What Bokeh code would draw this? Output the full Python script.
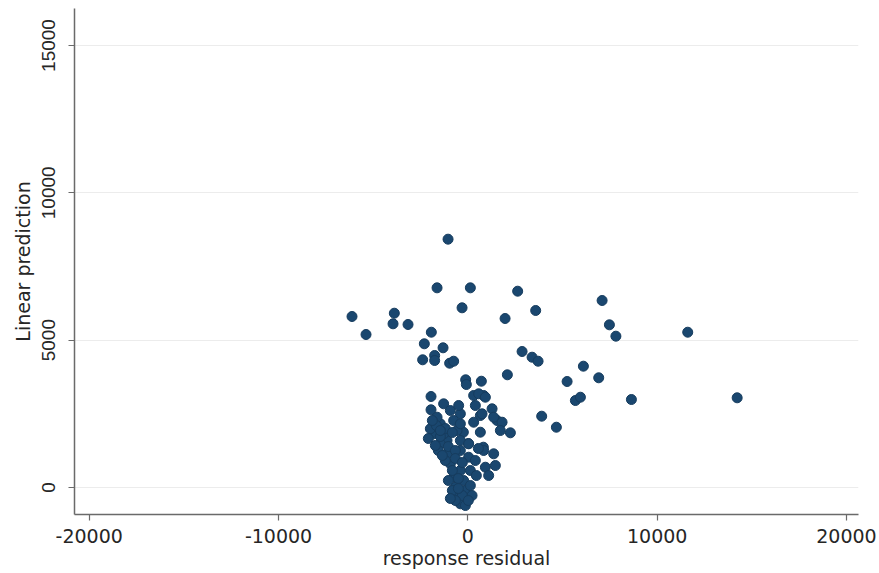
from bokeh.plotting import figure
from bokeh.models import Range1d, FixedTicker, ColumnDataSource, PrintfTickFormatter
from bokeh.embed import file_html
from bokeh.resources import INLINE

# response residual (x) and linear prediction (y)
resid = [
    -1046, -1627, 132, -306, -6119, -5379, -3884, -3952, -3160, -1929,
    -2299, -1310, -2388, -1754, -1754, -962, -750, -116, -79, 713,
    2631, 3583, 1966, 7091, 7477, 7820, 11614, 2864, 3392, 3709,
    6103, 6912, 5242, 2087, 5680, 5945, 8639, 14225, 3900, 4676,
    306, 835, 1279, 660, 1543, 1807, 2246, 1717, 660, -238,
    26, 819, -1945, -1945, -1279, 571, 925, 396, 750, 1363,
    306, -396, -571, -1453, -1807, -1982, -1099, -396, 42, 42,
    835, 1363, 1453, 925, 1099, -396, -1099, -925, -396, -750,
    -222, -660, -132, -571, 222, -396, -132, -1453, -1279, -1627,
    -750, -396, -925, -486, -1664, -1189, -819, -1453, -1030, -660,
    -1559, -1189, -660, -291, -819, -502, -1030, 132, 396, 555,
    -291, -819, -502, 26, -660, 132, 449, -1453, -1876, -2087,
    -1717, -1347, -925,
]
pred = [
    8427, 6776, 6776, 6098, 5803, 5192, 5915, 5555, 5532, 5270,
    4877, 4741, 4334, 4480, 4310, 4218, 4286, 3655, 3495, 3607,
    6662, 6007, 5735, 6346, 5521, 5135, 5270, 4615, 4422, 4286,
    4117, 3723, 3597, 3825, 2952, 3064, 2986, 3044, 2420, 2046,
    3122, 3122, 2671, 2443, 2274, 2216, 1856, 1934, 1877, 1877,
    1493, 1368, 3088, 2637, 2840, 3180, 3064, 2783, 2501, 2386,
    2216, 2501, 1934, 2162, 1822, 1992, 1595, 1595, 1483, 1028,
    1256, 1144, 747, 689, 407, 1256, 1144, 804, 577, 350,
    238, 10, -102, -329, -271, -553, -611, 1483, 1822, 2386,
    2274, 2162, 2613, 2783, 2104, 2002, 1866, 1731, 1391, 1256,
    1256, 916, 984, 848, 577, 305, 238, 577, 916, 1324,
    -271, -102, -34, -441, -441, 68, 407, 1934, 2274, 1663,
    1425, 1086, -373,
]

x_ticks = [-20000, -10000, 0, 10000, 20000]
y_ticks = [0, 5000, 10000, 15000]

TXT = "#262626"
AX = "#6a6a6a"

p = figure(width=879, height=573, output_backend="svg", toolbar_location=None,
           x_range=Range1d(-20777, 20634), y_range=Range1d(-916, 16255),
           min_border_left=74, min_border_right=21, min_border_top=8,
           min_border_bottom=59, background_fill_color="white",
           border_fill_color="white")
p.outline_line_color = None

src = ColumnDataSource(dict(x=resid, y=pred))
p.scatter("x", "y", source=src, size=10, fill_color="#1a476f",
          line_color="#163c5e", line_width=1)

p.xgrid.visible = False
p.ygrid.ticker = FixedTicker(ticks=y_ticks)
p.ygrid.grid_line_color = "#ececec"
p.ygrid.grid_line_width = 1

p.xaxis.ticker = FixedTicker(ticks=x_ticks)
p.yaxis.ticker = FixedTicker(ticks=y_ticks)
p.xaxis.formatter = PrintfTickFormatter(format="%d")
p.yaxis.formatter = PrintfTickFormatter(format="%d")
p.xaxis.axis_label = "response residual"
p.yaxis.axis_label = "Linear prediction"
p.yaxis.major_label_orientation = "vertical"

for ax in (p.xaxis, p.yaxis):
    ax.axis_line_color = AX
    ax.axis_line_width = 1.5
    ax.major_tick_line_color = AX
    ax.major_tick_line_width = 1.2
    ax.major_tick_out = 6
    ax.major_tick_in = 0
    ax.minor_tick_line_color = None
    ax.major_label_text_font_size = "19px"
    ax.major_label_text_color = TXT
    ax.axis_label_text_font = "DejaVu Sans"
    ax.axis_label_text_font_size = "19px"
    ax.axis_label_text_font_style = "normal"
    ax.axis_label_text_color = TXT

p.xaxis.major_label_text_font = "DejaVu Sans"
p.yaxis.major_label_text_font = "Liberation Sans"
p.xaxis.major_label_standoff = 8
p.xaxis.axis_label_standoff = 1
p.yaxis.major_label_standoff = 13
p.yaxis.axis_label_standoff = 6

open("out.html", "w").write(file_html(p, INLINE))
